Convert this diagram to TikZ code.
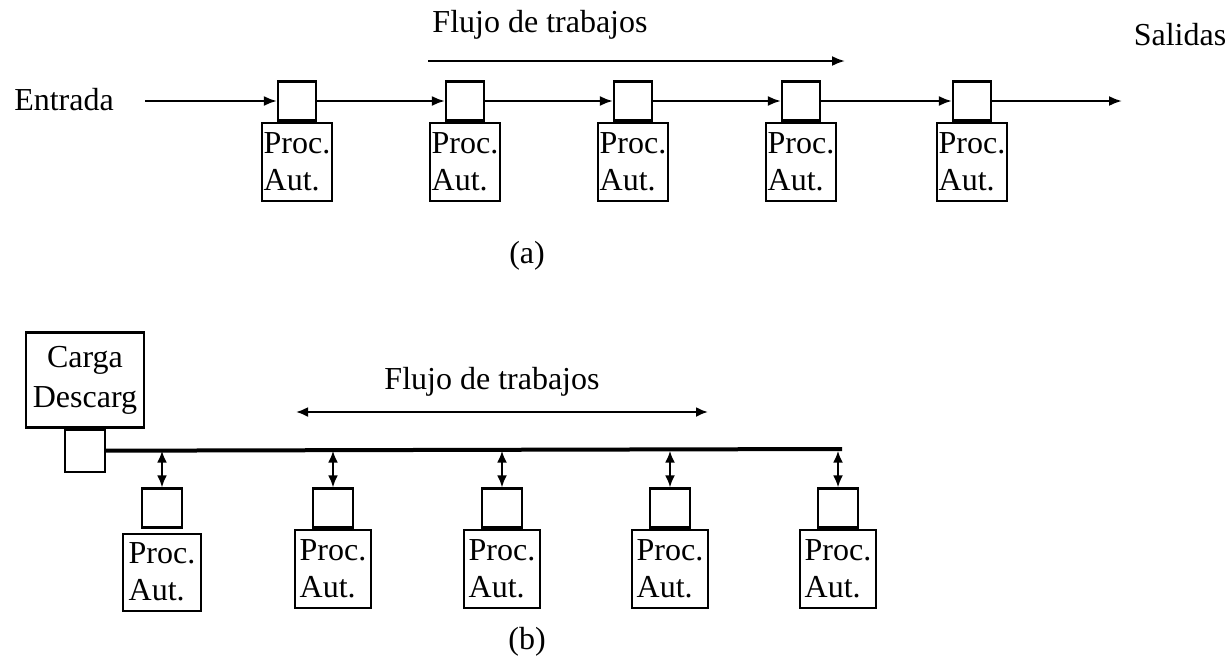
\documentclass[tikz,border=0pt]{standalone}
\usepackage{fontspec}
\setmainfont{Liberation Serif}
\usetikzlibrary{arrows.meta,positioning}

\tikzset{
  lbl/.style={font=\fontsize{32}{38}\selectfont, inner sep=0pt},
  port/.style={draw, line width=2.2pt, minimum width=38pt, minimum height=39pt, inner sep=0pt},
  procbox/.style={draw, line width=2.2pt, minimum width=70pt, minimum height=78pt, inner sep=1pt,
    align=left, font=\fontsize{32}{37}\selectfont},
  flow/.style={line width=2.2pt, -{Latex[length=13pt,width=10pt]}},
  twoway/.style={line width=2.2pt, {Latex[length=12pt,width=10pt]}-{Latex[length=12pt,width=10pt]}},
  bus/.style={line width=4pt},
}

\begin{document}
\begin{tikzpicture}[x=1pt,y=-1pt]
  \useasboundingbox (0,0) rectangle (1230,667);

  % (a) line of stations
  \node[lbl] (titleA) at (540,25) {Flujo de trabajos};
  \coordinate (fa1) at (428,61);
  \coordinate (fa2) at (845,61);
  \draw[flow] (fa1) -- (fa2);

  \node[lbl] (entrada) at (64,100) {Entrada};
  \node[lbl] (salidas) at (1180,35) {Salidas};
  \coordinate (inA) at (145,101);
  \coordinate (outA) at (1122,101);

  \foreach \x [count=\i] in {297,465,633,801,972} {
    \node[port] (t\i) at (\x,101) {};
    \node[procbox, below=0pt of t\i] (tp\i) {Proc.\\Aut.};
  }

  % moving the work along
  \draw[flow] (inA) -- (t1.west);
  \foreach \i [evaluate=\i as \j using int(\i+1)] in {1,...,4}
    \draw[flow] (t\i.east) -- (t\j.west);
  \draw[flow] (t5.east) -- (outA);

  \node[lbl] (capA) at (527,256) {(a)};

  % (b) stations on a common bus
  \node[draw, line width=2.2pt, minimum width=118pt, minimum height=95pt, align=center,
    font=\fontsize{32}{40}\selectfont] (carga) at (85,380) {Carga\\Descarg};
  \node[port, minimum width=40pt, minimum height=42pt, below=0pt of carga] (cport) {};

  \node[lbl] (titleB) at (492,382) {Flujo de trabajos};
  \coordinate (fb1) at (296,412);
  \coordinate (fb2) at (708,412);
  \draw[twoway] (fb1) -- (fb2);

  \coordinate (busEnd) at (842,449);
  \draw[bus] (cport.east) -- (busEnd);

  \foreach \x [count=\i] in {162,333,502,670,838} {
    \node[port, minimum width=40pt] (b\i) at (\x,508) {};
    \draw[twoway] (b\i.north |- cport.east) -- (b\i.north);
  }
  \node[procbox, minimum width=78pt, minimum height=77pt, below=4pt of b1] (bp1) {Proc.\\Aut.};
  \foreach \i in {2,...,5}
    \node[procbox, minimum width=76pt, minimum height=78pt, below=0pt of b\i] (bp\i) {Proc.\\Aut.};

  \node[lbl] (capB) at (527,642) {(b)};
\end{tikzpicture}
\end{document}
